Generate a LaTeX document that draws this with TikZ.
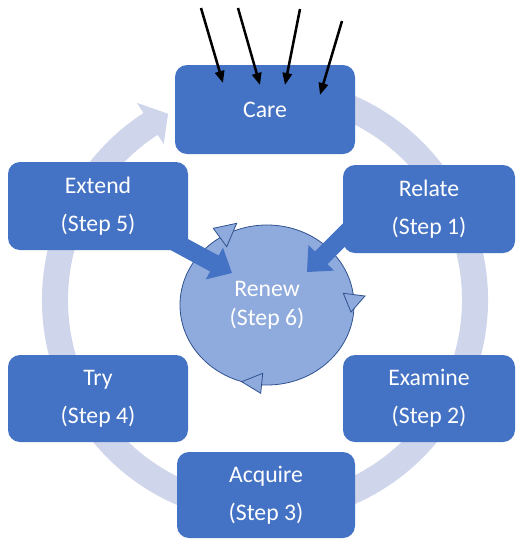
\documentclass[tikz,border=0pt]{standalone}
\usepackage{fontspec}
\setmainfont{Carlito}
\usetikzlibrary{shapes.geometric,calc,arrows.meta}
\definecolor{boxblue}{HTML}{4472C4}
\definecolor{ringc}{HTML}{CFD5EA}
\definecolor{circfill}{HTML}{8FAADC}
\definecolor{circline}{HTML}{2F528F}
\newcommand\blockarrow[3]{%
  \coordinate (#3h) at ($(#2)!15pt!(#1)$);
  \fill[boxblue] ($(#1)!6.75pt!90:(#2)$) -- ($(#3h)!6.75pt!90:(#2)$) -- ($(#3h)!13.5pt!90:(#2)$) -- (#2)
    -- ($(#3h)!13.5pt!-90:(#2)$) -- ($(#3h)!6.75pt!-90:(#2)$) -- ($(#1)!6.75pt!-90:(#2)$) -- cycle;}
\begin{document}
\begin{tikzpicture}[x=0.75pt,y=-0.75pt,
  stepbox/.style={fill=boxblue, rounded corners=9pt, text=white, align=center, inner sep=0pt,
    font=\fontsize{17.8pt}{28.5pt}\selectfont},
  renewnode/.style={ellipse, fill=circfill, draw=circline, line width=0.6pt, text=white, align=center,
    inner sep=0pt, minimum width=130.5pt, minimum height=120pt, font=\fontsize{17.8pt}{21.75pt}\selectfont},
  circtri/.style={fill=circfill, draw=circline, line width=0.6pt, line join=miter},
  blackarrow/.style={line width=1.9pt, -{Triangle[length=9pt,width=7pt]}}]
\fill[white] (0,0) rectangle (516,540);
\useasboundingbox (0,0) rectangle (516,540);
% big cycle ring
\coordinate (rc) at (265,300);
\fill[ringc] ($(rc)+(-80:223)$) arc[start angle=-80,end angle=237,radius=223]
  -- ($(rc)+(237:235)$) -- ($(rc)+(242.5:210)$) -- ($(rc)+(237:186)$) -- ($(rc)+(237:197)$)
  arc[start angle=237,end angle=-80,radius=197] -- cycle;
% step boxes
\node[stepbox, minimum width=135pt, minimum height=66.75pt] (care) at (265,109.5) {Care};
\node[stepbox, minimum width=129pt, minimum height=66pt] (relate) at (429,209) {Relate\\(Step 1)};
\node[stepbox, minimum width=135pt, minimum height=66pt] (extend) at (98,206) {Extend\\(Step 5)};
\node[stepbox, minimum width=135pt, minimum height=65.25pt] (try) at (98,398.5) {Try\\(Step 4)};
\node[stepbox, minimum width=129pt, minimum height=65.25pt] (examine) at (429,398.5) {Examine\\(Step 2)};
\node[stepbox, minimum width=133.5pt, minimum height=64.5pt] (acquire) at (266,495) {Acquire\\(Step 3)};
% renew circle
\node[renewnode] (renew) at (267,305) {Renew\\(Step 6)};
% circle arrowheads
\filldraw[circtri] (213.3,228.3) -- (236.7,223.3) -- (226.7,246.7) -- cycle;
\filldraw[circtri] (343.3,293.3) -- (365,296) -- (351,312) -- cycle;
\filldraw[circtri] (241.7,381.7) -- (262.7,373.3) -- (260.7,393.3) -- cycle;
% block arrows into renew
\coordinate (lfs) at (169,239);
\coordinate (lft) at (232,273);
\coordinate (rts) at (360,219);
\coordinate (rtt) at (307,272);
\blockarrow{lfs}{lft}{la}
\blockarrow{rts}{rtt}{ra}
% black arrows into care
\coordinate (a1s) at (201,8);   \coordinate (a1t) at (223,83);
\coordinate (a2s) at (238,8);   \coordinate (a2t) at (260,85);
\coordinate (a3s) at (300,9);   \coordinate (a3t) at (285,85);
\coordinate (a4s) at (342,21);  \coordinate (a4t) at (320,95);
\draw[blackarrow] (a1s) -- (a1t);
\draw[blackarrow] (a2s) -- (a2t);
\draw[blackarrow] (a3s) -- (a3t);
\draw[blackarrow] (a4s) -- (a4t);
\end{tikzpicture}
\end{document}
